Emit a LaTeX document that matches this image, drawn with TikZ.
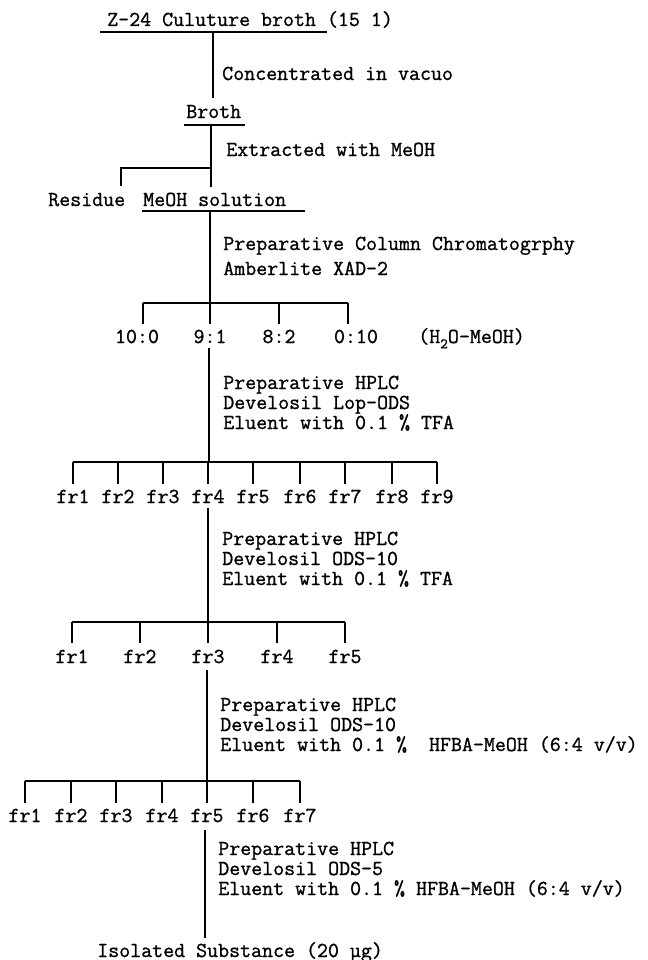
\documentclass[tikz,border=0pt]{standalone}
\usepackage{fontspec}
\newfontfamily\tw{Latin Modern Mono}[FakeBold=1]
\tikzset{
  txt/.style={font=\tw\fontsize{16}{19}\selectfont, inner sep=0pt, anchor=base west},
  lab/.style={font=\tw\fontsize{16}{19}\selectfont, inner sep=0pt, anchor=base},
  ln/.style={line width=1.4pt, line cap=butt},
}
\begin{document}
\begin{tikzpicture}[x=0.75pt, y=-0.75pt]
\fill[white] (0,0) rectangle (647,960);
\useasboundingbox (0,0) rectangle (647,960);

% --- top
\node[txt] (title) at (107,26) {Z-24 Culuture broth (15 1)};
\coordinate (u1l) at (100,32); \coordinate (u1r) at (327,32);
\draw[ln] (u1l) -- (u1r);
\coordinate (s1a) at (213,32); \coordinate (s1b) at (213,98);
\draw[ln] (s1a) -- (s1b);
\node[txt] (conc) at (222,80) {Concentrated in vacuo};

\node[txt] (broth) at (186,118) {Broth};
\coordinate (u2l) at (184,125); \coordinate (u2r) at (245,125);
\draw[ln] (u2l) -- (u2r);
\coordinate (s2a) at (211,125); \coordinate (s2b) at (211,187);
\draw[ln] (s2a) -- (s2b);
\node[txt] (extr) at (226,156) {Extracted with MeOH};
\coordinate (j2) at (211,168); \coordinate (r2) at (121,168); \coordinate (r2b) at (121,186);
\draw[ln] (j2) -- (r2) -- (r2b);

\node[txt] (resid) at (48,206) {Residue};
\node[txt] (meoh) at (143,206) {MeOH solution};
\coordinate (u3l) at (142,211); \coordinate (u3r) at (305,211);
\draw[ln] (u3l) -- (u3r);

% --- column chromatography
\coordinate (s3a) at (210,211); \coordinate (s3b) at (210,303);
\draw[ln] (s3a) -- (s3b);
\node[txt] (p1a) at (223,250) {Preparative Column Chromatogrphy};
\node[txt] (p1b) at (223,275) {Amberlite XAD-2};
\node[lab] (a1) at (137,343) {10:0};
\node[lab] (a2) at (210,343) {9:1};
\node[lab] (a3) at (279,343) {8:2};
\node[lab] (a4) at (356,343) {0:10};
\node[txt] (solv) at (418,343) {(H{\fontsize{11}{11}\selectfont\raisebox{-4pt}{2}}O-MeOH)};
\draw[ln] (143,303) -- (348,303);
\foreach \x in {143,210,279,348} { \draw[ln] (\x,303) -- (\x,324); }

% --- HPLC 1
\coordinate (s4a) at (209,348); \coordinate (s4b) at (209,462);
\draw[ln] (s4a) -- (s4b);
\node[txt] (p2a) at (223,389) {Preparative HPLC};
\node[txt] (p2b) at (223,409) {Develosil Lop-ODS};
\node[txt] (p2c) at (223,429) {Eluent with 0.1 \% TFA};
\draw[ln] (73,462) -- (437,462);
\foreach \n/\x in {1/73,2/118,3/163,4/208,5/253,6/300,7/345,8/392,9/437} {
  \node[lab] (b\n) at (\x,503) {fr\n};
  \draw[ln] (\x,462) -- (\x,484);
}

% --- HPLC 2
\coordinate (s5a) at (208,508); \coordinate (s5b) at (208,622);
\draw[ln] (s5a) -- (s5b);
\node[txt] (p3a) at (222,545) {Preparative HPLC};
\node[txt] (p3b) at (222,565) {Develosil ODS-10};
\node[txt] (p3c) at (222,585) {Eluent with 0.1 \% TFA};
\draw[ln] (72,622) -- (345,622);
\foreach \n/\x in {1/72,2/140,3/208,4/277,5/345} {
  \node[lab] (c\n) at (\x,663) {fr\n};
  \draw[ln] (\x,622) -- (\x,643);
}

% --- HPLC 3
\coordinate (s6a) at (207,670); \coordinate (s6b) at (207,781);
\draw[ln] (s6a) -- (s6b);
\node[txt] (p4a) at (220,711) {Preparative HPLC};
\node[txt] (p4b) at (220,731) {Develosil ODS-10};
\node[txt] (p4c) at (220,751) {Eluent with 0.1 \%\ \ HFBA-MeOH (6:4 v/v)};
\draw[ln] (25,781) -- (300,781);
\foreach \n/\x in {1/25,2/71,3/116,4/162,5/207,6/253,7/300} {
  \node[lab] (d\n) at (\x,822) {fr\n};
  \draw[ln] (\x,781) -- (\x,803);
}

% --- HPLC 4
\coordinate (s7a) at (205,830); \coordinate (s7b) at (205,938);
\draw[ln] (s7a) -- (s7b);
\node[txt] (p5a) at (218,855) {Preparative HPLC};
\node[txt] (p5b) at (218,875) {Develosil ODS-5};
\node[txt] (p5c) at (218,895) {Eluent with 0.1 \% HFBA-MeOH (6:4 v/v)};
\node[txt] (iso) at (97,957) {Isolated Substance (20 µg)};
\end{tikzpicture}
\end{document}
